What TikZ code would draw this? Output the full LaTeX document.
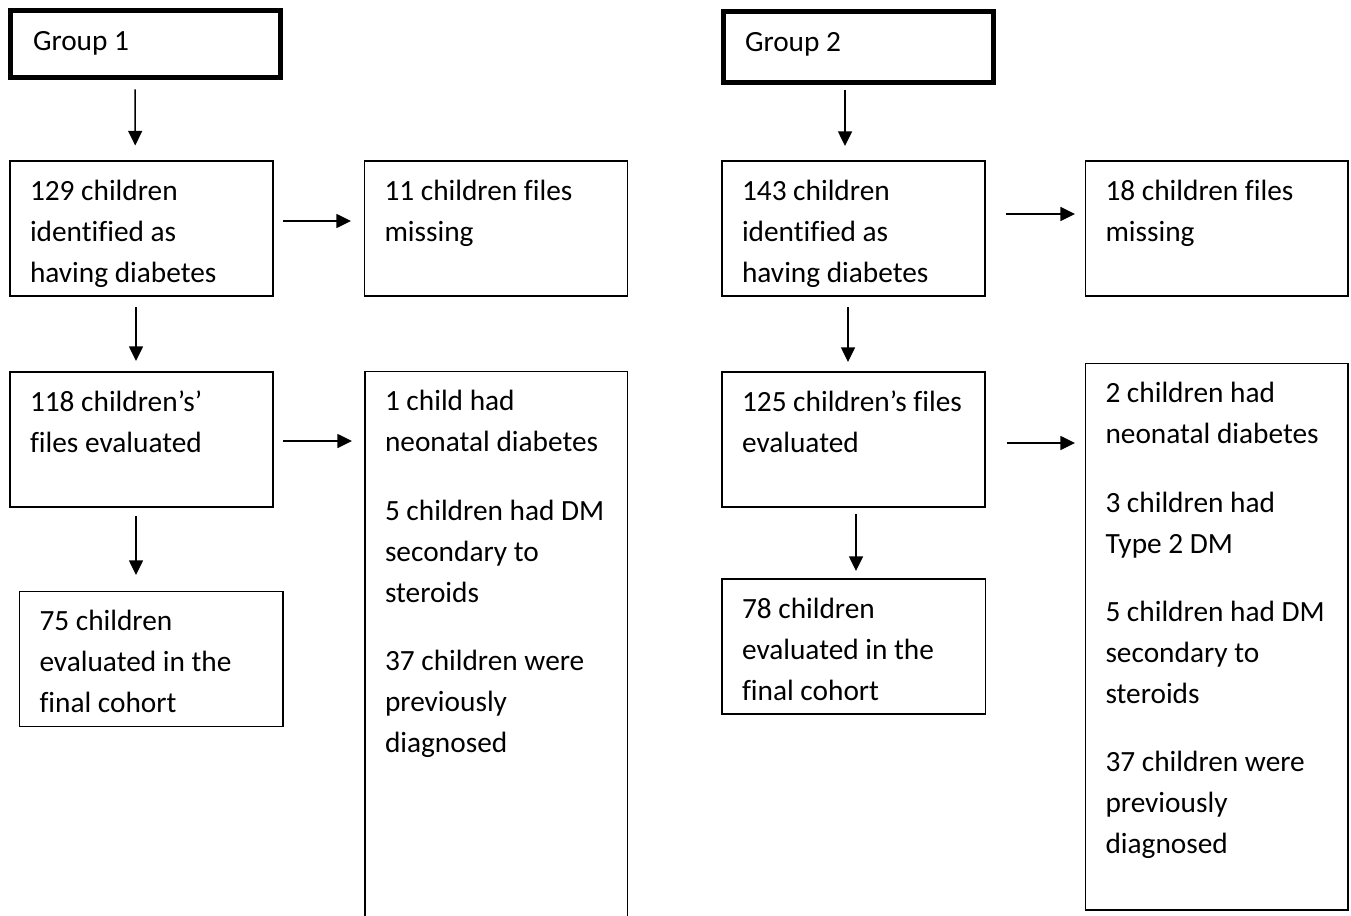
\documentclass[tikz,border=0pt]{standalone}
\usepackage{fontspec}
\setmainfont{Carlito}[Ligatures=NoCommon]
\usetikzlibrary{arrows.meta}
\newdimen\px \px=0.75pt
\begin{document}
\begin{tikzpicture}[x=0.75pt,y=-0.75pt,
  box/.style={draw, line width=1pt, inner sep=0pt, outer sep=0pt},
  gbox/.style={draw, line width=3.75pt, inner sep=0pt, outer sep=0pt},
  txt/.style={anchor=north west, inner sep=0pt, outer sep=0pt, text width=250\px, font=\fontsize{22}{30.75}\selectfont, execute at begin node={\spaceskip=0.226em\relax\xspaceskip=0.226em\relax\strut}},
  arr/.style={line width=1.1pt, -{Triangle[length=11pt,width=10.5pt]}}]
\useasboundingbox (0,0) rectangle (1351,916);
\clip (0,0) rectangle (1351,916);
% boxes
\node[gbox, minimum width=270\px, minimum height=66.7\px] (g1) at (145.2,44.15) {};
\node[gbox, minimum width=270.5\px, minimum height=70.5\px] (g2) at (858.25,47.25) {};
\node[box, minimum width=263\px, minimum height=135\px] (a1) at (141.5,228.5) {};
\node[box, minimum width=263\px, minimum height=135\px] (a2) at (496,228.5) {};
\node[box, minimum width=263\px, minimum height=135\px] (a3) at (141.5,439.5) {};
\node[box, minimum width=262.5\px, minimum height=558.5\px] (a4) at (496.25,650.75) {};
\node[box, minimum width=263.5\px, minimum height=135\px] (a5) at (151.25,659) {};
\node[box, minimum width=263\px, minimum height=135\px] (b1) at (853.5,228.5) {};
\node[box, minimum width=262.5\px, minimum height=135\px] (b2) at (1216.75,228.5) {};
\node[box, minimum width=263\px, minimum height=135\px] (b3) at (853.5,439.5) {};
\node[box, minimum width=262.5\px, minimum height=546.5\px] (b4) at (1216.75,636.75) {};
\node[box, minimum width=263.5\px, minimum height=135\px] (b5) at (853.75,646.5) {};
% texts
\node[txt] (tg1) at ([shift={(22.8,11.5)}]g1.north west) {Group 1};
\node[txt] (tg2) at ([shift={(22,10.5)}]g2.north west) {Group 2};
\node[txt] (ta1) at ([shift={(20,10.5)}]a1.north west) {129 children\\identified as\\having diabetes};
\node[txt] (ta2) at ([shift={(20,10.5)}]a2.north west) {11 children files\\missing};
\node[txt] (ta3) at ([shift={(20,10.5)}]a3.north west) {118 children’s’\\files evaluated};
\node[txt] (ta4) at ([shift={(20,10.5)}]a4.north west) {1 child had\\neonatal diabetes\\[20.5pt]5 children had DM\\secondary to\\steroids\\[20.5pt]37 children were\\previously\\diagnosed};
\node[txt] (ta5) at ([shift={(20,10.5)}]a5.north west) {75 children\\evaluated in the\\final cohort};
\node[txt] (tb1) at ([shift={(20,10.5)}]b1.north west) {143 children\\identified as\\having diabetes};
\node[txt] (tb2) at ([shift={(20,10.5)}]b2.north west) {18 children files\\missing};
\node[txt] (tb3) at ([shift={(20,10.5)}]b3.north west) {125 children’s files\\evaluated};
\node[txt] (tb4) at ([shift={(20,10.5)}]b4.north west) {2 children had\\neonatal diabetes\\[20.5pt]3 children had\\Type 2 DM\\[20.5pt]5 children had DM\\secondary to\\steroids\\[20.5pt]37 children were\\previously\\diagnosed};
\node[txt] (tb5) at ([shift={(20,10.5)}]b5.north west) {78 children\\evaluated in the\\final cohort};
% arrows
\draw[arr] ([shift={(-10,12)}]g1.south) -- ([shift={(-6.3,-15.5)}]a1.north);
\draw[arr] ([shift={(-5.5,11)}]a1.south) -- ([shift={(-5.5,-11)}]a3.north);
\draw[arr] ([shift={(-5.5,9)}]a3.south) -- ([shift={(-15.25,-16.5)}]a5.north);
\draw[arr] ([shift={(10,-7.5)}]a1.east) -- ([shift={(-13.5,-7.5)}]a2.west);
\draw[arr] ([shift={(10,1.5)}]a3.east) -- ([shift={(-13,69.5)}]a4.north west);
\draw[arr] ([shift={(-13.25,7.5)}]g2.south) -- ([shift={(-8.5,-15)}]b1.north);
\draw[arr] ([shift={(-5.5,11)}]b1.south) -- ([shift={(-5.5,-10)}]b3.north);
\draw[arr] ([shift={(2.5,7)}]b3.south) -- ([shift={(2.25,-8)}]b5.north);
\draw[arr] ([shift={(21,-14.5)}]b1.east) -- ([shift={(-10.5,-14.5)}]b2.west);
\draw[arr] ([shift={(22,3.5)}]b3.east) -- ([shift={(-10.5,79.5)}]b4.north west);
\end{tikzpicture}
\end{document}
